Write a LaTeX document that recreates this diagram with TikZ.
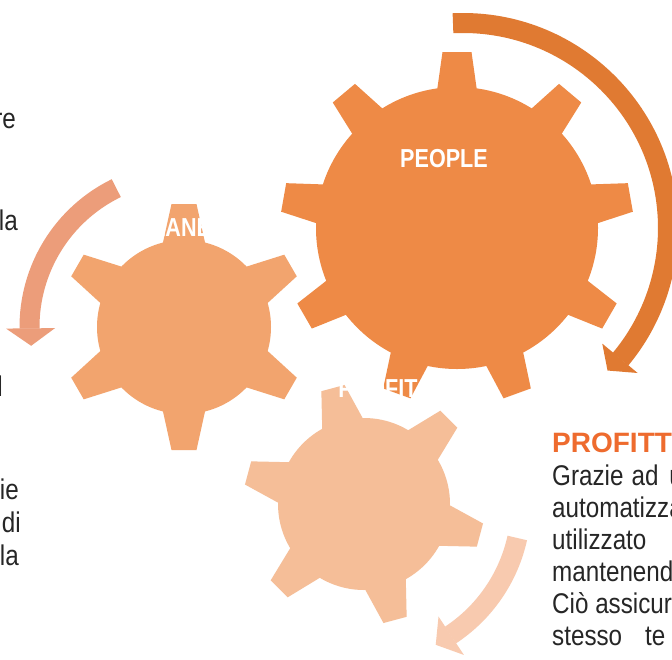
\documentclass[tikz,border=0pt]{standalone}
\usepackage{fontspec}
\newfontfamily\bodyfont[FakeStretch=0.85]{Liberation Sans}
\newfontfamily\labelfont[FakeStretch=0.83]{Liberation Sans}
\newfontfamily\headfont{Liberation Sans}
\definecolor{gearbig}{HTML}{EE8A46}
\definecolor{arrowbig}{HTML}{E07A32}
\definecolor{gearmid}{HTML}{F2A46E}
\definecolor{arrowmid}{HTML}{EC9D7A}
\definecolor{gearlow}{HTML}{F5BE98}
\definecolor{arrowlow}{HTML}{F8CAAF}
\definecolor{headcol}{HTML}{EE6B2E}
\definecolor{bodytext}{HTML}{262626}

\begin{document}
\begin{tikzpicture}[
  x=1pt, y=1pt,
  gearlbl/.style={font=\labelfont\bfseries\fontsize{26}{30}\selectfont, text=white, inner sep=0pt},
  bodytxt/.style={font=\bodyfont\fontsize{28.5}{32}\selectfont, text=bodytext, inner sep=0pt, anchor=base west},
  lefttxt/.style={bodytxt, anchor=base east},
  headtxt/.style={font=\headfont\bfseries\fontsize{28}{32}\selectfont, text=headcol, inner sep=0pt, anchor=base west},
  band/.style={line width=20pt}
]
  \useasboundingbox (0,0) rectangle (672,-659);
  \fill[white] (0,0) rectangle (672,-659);

  \coordinate (cpeople) at (457,-228);
  \coordinate (cplanet) at (184,-327);
  \coordinate (cprofit) at (364,-504);
  \coordinate (cturn) at (463,-228);

  \begin{scope}[shift={(cturn)}]
    \draw[band, arrowbig] (92.8:205) arc[start angle=92.8, end angle=-39.8, radius=205];
    \fill[arrowbig] (-39.7:181) -- (-44.6:203) -- (-39.7:227) -- cycle;
  \end{scope}
  \begin{scope}[shift={(cplanet)}]
    \draw[band, arrowmid] (116:154.5) arc[start angle=116, end angle=180.6, radius=154.5];
    \fill[arrowmid] (180.5:129) -- (187:154) -- (180.5:178) -- cycle;
  \end{scope}
  \begin{scope}[shift={(cprofit)}]
    \draw[band, arrowlow] (-12.5:157) arc[start angle=-12.5, end angle=-56.6, radius=157];
    \fill[arrowlow] (-56.5:135) -- (-63:158) -- (-56.5:181) -- cycle;
  \end{scope}

  \begin{scope}[shift={(cpeople)}]
    \fill[gearbig] (0,0) circle[radius=141];
    \foreach \a in {10,50,...,330}
      \fill[gearbig, rotate=\a] (130,-21) -- (176,-14.5) -- (176,14.5) -- (130,21) -- cycle;
  \end{scope}
  \begin{scope}[shift={(cplanet)}]
    \fill[gearmid] (0,0) circle[radius=87];
    \foreach \a in {30,90,...,330}
      \fill[gearmid, rotate=\a] (80,-22) -- (123,-12.5) -- (123,12.5) -- (80,22) -- cycle;
  \end{scope}
  \begin{scope}[shift={(cprofit)}]
    \fill[gearlow] (0,0) circle[radius=86];
    \foreach \a in {45,105,...,345}
      \fill[gearlow, rotate=\a] (79,-22) -- (120,-12) -- (120,12) -- (79,22) -- cycle;
  \end{scope}

  \node[gearlbl] (people) at (444,-159) {PEOPLE};
  \node[gearlbl] (planet) at (181,-227.5) {PLANET};
  \node[gearlbl] (profit) at (378,-389) {PROFIT};

  \node[headtxt] (profhead) at (552,-452) {PROFITT};
  \node[bodytxt] (profa) at (552,-485) {Grazie\hspace{8pt}ad\hspace{11pt}u};
  \node[bodytxt] (profb) at (552,-517) {automatizza};
  \node[bodytxt] (profc) at (552,-549) {utilizzato};
  \node[bodytxt] (profd) at (552,-581) {mantenendo};
  \node[bodytxt] (profe) at (552,-613) {Ciò assicur};
  \node[bodytxt] (proff) at (552,-645) {stesso\hspace{23pt}te};

  \node[lefttxt] (lefta) at (16,-128) {re};
  \node[lefttxt] (leftb) at (18,-230) {la};
  \node[lefttxt] (leftc) at (3,-396) {l};
  \node[lefttxt] (leftd) at (19,-499) {ie};
  \node[lefttxt] (lefte) at (21,-532) {di};
  \node[lefttxt] (leftf) at (19,-565) {la};
\end{tikzpicture}
\end{document}
